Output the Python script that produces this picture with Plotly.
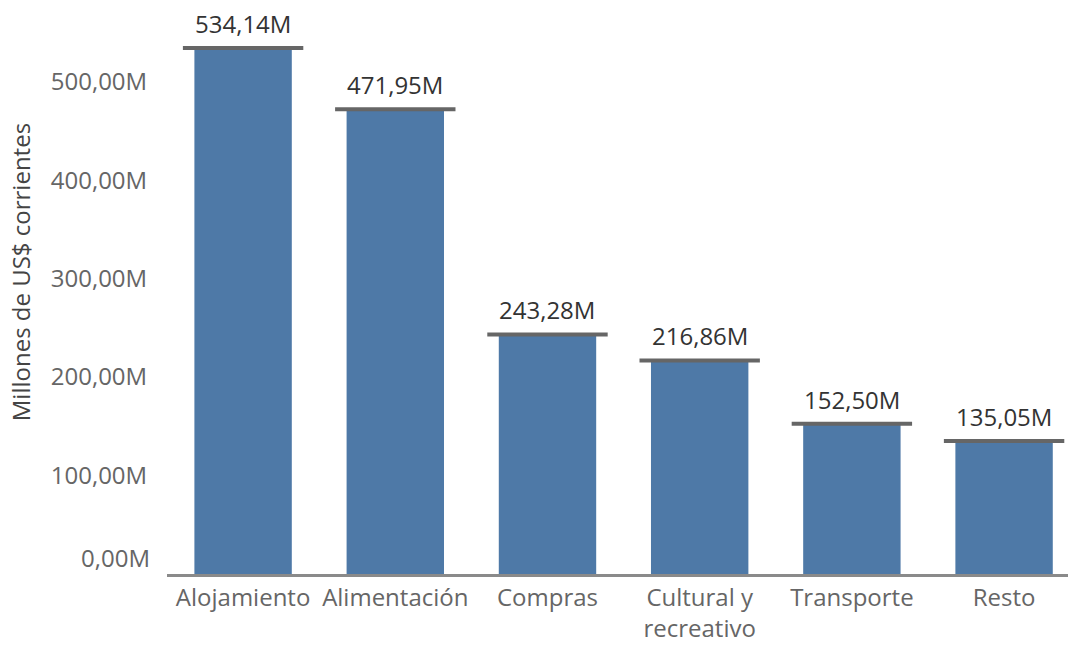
import plotly.graph_objects as go

categories = ["Alojamiento", "Alimentación", "Compras", "Cultural y<br>recreativo", "Transporte", "Resto"]
values = [534.14, 471.95, 243.28, 216.86, 152.50, 135.05]
tick_vals = [100, 200, 300, 400, 500]

BAR = "#4E79A7"
CAP = "#666666"
FONT = "Open Sans, Noto Sans, sans-serif"


def fmt(v):
    return f"{v:.2f}".replace(".", ",") + "M"


x_idx = list(range(len(categories)))

fig = go.Figure()

fig.add_trace(go.Bar(
    x=x_idx, y=values, width=0.64,
    marker=dict(color=BAR, line=dict(width=0)),
    hoverinfo="skip",
))

# grey reference cap drawn on top of each bar
fig.add_trace(go.Scatter(
    x=x_idx, y=values, mode="markers",
    marker=dict(symbol="line-ew", size=86, line=dict(color=CAP, width=4)),
    cliponaxis=False, hoverinfo="skip",
))

annotations = []
for i, v in zip(x_idx, values):
    annotations.append(dict(
        x=i, y=v, xref="x", yref="y", text=fmt(v), showarrow=False,
        yanchor="bottom", yshift=6,
        font=dict(family=FONT, size=24, color="#333333"),
    ))

# zero label sits just above the baseline
annotations.append(dict(
    x=0, y=0, xref="paper", yref="y", text=fmt(0), showarrow=False,
    xanchor="right", yanchor="bottom", xshift=-15, yshift=-2,
    font=dict(family=FONT, size=24, color="#666666"),
))

annotations.append(dict(
    x=-0.183, y=0.525, xref="paper", yref="paper",
    text="Millones de US$ corrientes", showarrow=False, textangle=-90,
    font=dict(family=FONT, size=24, color="#444444"),
))

fig.update_layout(
    width=1068, height=646,
    margin=dict(l=167, r=0, t=0, b=72),
    paper_bgcolor="white", plot_bgcolor="white",
    showlegend=False,
    annotations=annotations,
    xaxis=dict(
        tickmode="array", tickvals=x_idx, ticktext=categories,
        range=[-0.5, 5.42], showgrid=False, zeroline=False,
        showline=True, linecolor="#8a8a8a", linewidth=3,
        ticks="", ticklen=0,
        tickfont=dict(family=FONT, size=24, color="#666666"),
        automargin=False, fixedrange=True,
    ),
    yaxis=dict(
        range=[0, 583], tickmode="array", tickvals=tick_vals,
        ticktext=[fmt(v) for v in tick_vals],
        showgrid=False, zeroline=False, showline=False,
        ticks="outside", ticklen=14, tickcolor="rgba(0,0,0,0)",
        tickfont=dict(family=FONT, size=24, color="#666666"),
        automargin=False, fixedrange=True,
    ),
)

fig.write_html("out.html")
